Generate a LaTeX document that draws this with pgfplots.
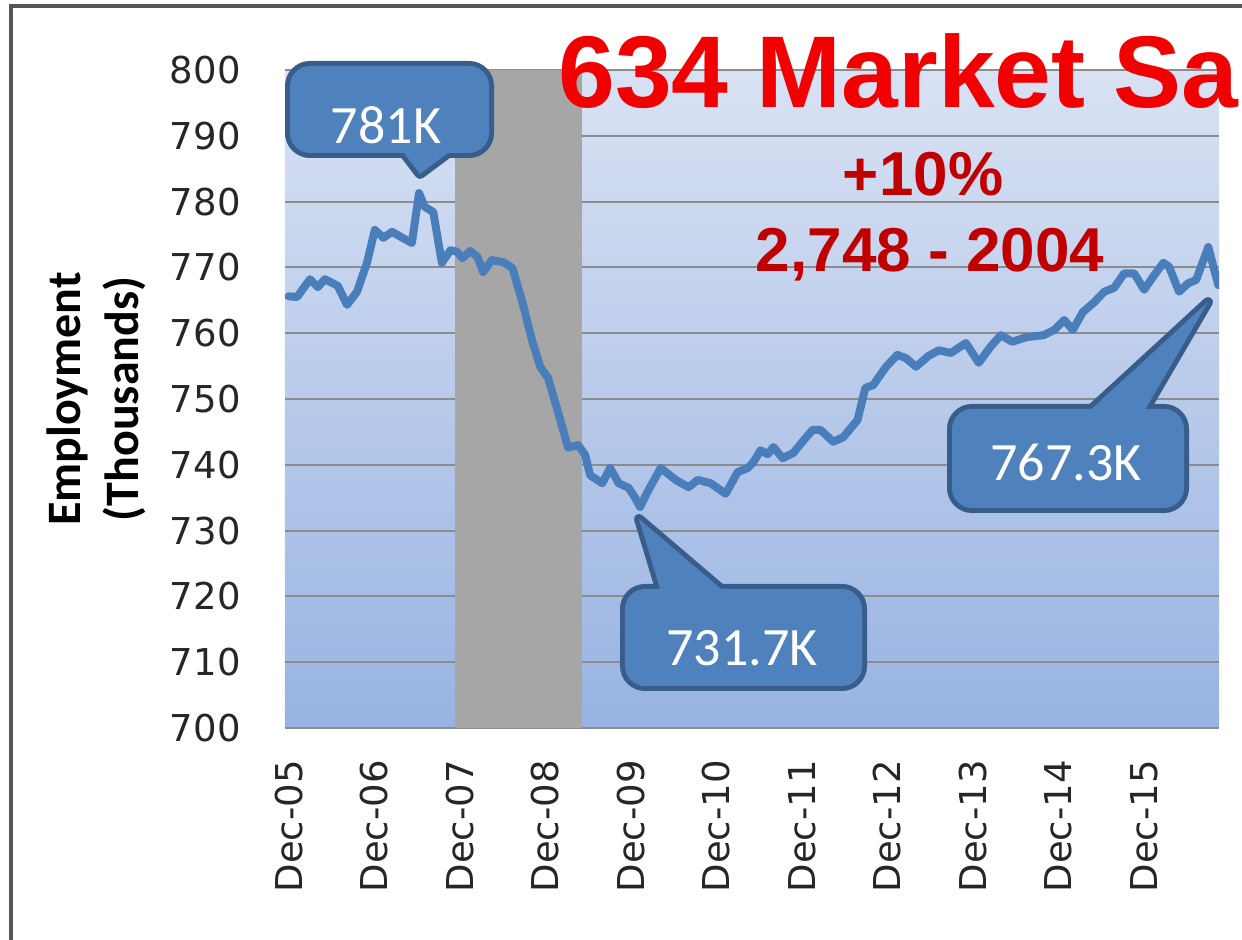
\documentclass[border=0pt]{standalone}
\usepackage{pgfplots}
\pgfplotsset{compat=1.18}
\usepackage{fontspec}
\setmainfont{DejaVu Sans}
\newfontfamily\calib{Carlito}
\newfontfamily\arialf{Liberation Sans}

\definecolor{bgtop}{RGB}{217,226,243}
\definecolor{bgbot}{RGB}{152,179,226}
\definecolor{lineblue}{RGB}{74,126,187}
\definecolor{recgray}{RGB}{166,166,166}
\definecolor{gridgray}{RGB}{140,140,140}
\definecolor{callfill}{RGB}{79,129,189}
\definecolor{callline}{RGB}{56,93,138}
\definecolor{framecol}{RGB}{85,85,95}
\definecolor{titlered}{RGB}{240,0,0}
\definecolor{darkred}{RGB}{192,0,0}

% employment, thousands; x = months after Dec-05
\pgfplotstableread{
m v
0 765.6
1.2 765.5
3.0 768.2
4.1 767.0
5.1 768.2
6.9 767.2
8.2 764.3
9.6 766.3
11.0 770.7
12.1 775.7
13.3 774.5
14.5 775.4
17.3 773.7
18.3 781.3
19.1 779.2
20.3 778.4
21.5 770.7
22.7 772.6
23.6 772.4
24.4 771.4
25.5 772.5
26.5 771.6
27.3 769.3
28.5 771.1
30.1 770.8
31.4 769.9
32.8 764.7
34.2 758.7
35.3 754.9
36.4 753.2
37.8 748.0
39.2 742.6
40.6 743.0
41.6 741.5
42.3 738.4
44.0 737.2
45.1 739.5
46.3 737.2
47.7 736.5
48.6 735.0
49.3 733.6
50.5 736.2
52.2 739.5
54.3 737.7
56.1 736.6
57.4 737.7
59.2 737.2
61.3 735.6
63.0 738.9
64.4 739.5
65.2 740.4
66.2 742.2
67.2 741.6
68.0 742.7
69.3 741.0
70.8 741.8
72.3 743.8
73.5 745.3
74.6 745.3
76.4 743.5
77.8 744.2
79.8 746.8
80.9 751.7
82.0 752.1
83.8 754.9
85.4 756.7
86.6 756.2
88.0 754.9
89.7 756.5
91.2 757.4
92.9 757.0
95.0 758.5
96.8 755.5
98.5 758.0
99.9 759.7
101.5 758.7
103.5 759.4
105.9 759.7
107.4 760.5
108.8 762.0
110.0 760.5
111.4 763.2
113.0 764.7
114.4 766.3
115.8 766.9
117.2 769.1
118.6 769.1
120.0 766.6
121.4 768.8
122.7 770.7
123.5 770.1
124.9 766.3
126.2 767.6
127.3 768.1
129.0 773.1
130.4 767.3
}\emp

\begin{document}
\begin{tikzpicture}
% page = 1242 x 940 px at 0.5pt per px, plot box lower-left at px (285,728)
\path[use as bounding box] (-142.5pt,-106pt) rectangle (478.5pt,364pt);
\begin{axis}[
    at={(0,0)}, anchor=south west,
    scale only axis, width=467pt, height=329pt,
    xmin=-0.5, xmax=130.5, ymin=700, ymax=800,
    ytick={700,710,...,800},
    xtick={0,12,...,120},
    xticklabels={Dec-05,Dec-06,Dec-07,Dec-08,Dec-09,Dec-10,Dec-11,Dec-12,Dec-13,Dec-14,Dec-15},
    ymajorgrids, grid style={gridgray, line width=1pt},
    axis x line*=bottom, axis y line*=left,
    x axis line style={gridgray, line width=1pt, -},
    y axis line style={draw=none},
    major tick length=0pt,
    axis background/.style={top color=bgtop, bottom color=bgbot},
    /pgf/number format/assume math mode=true,
    tick label style={font=\fontsize{18.5}{20}\selectfont, text=black!85},
    yticklabel style={anchor=east, inner xsep=22pt},
    xticklabel style={rotate=90, anchor=east, inner xsep=16pt},
    ylabel={Employment\\(Thousands)},
    every axis y label/.style={at={(axis description cs:-0.202,0.5)}, anchor=center,
        rotate=90, align=center, font=\calib\bfseries\fontsize{24}{29}\selectfont},
]
\addplot[fill=recgray, draw=none] coordinates {(23.4,700) (23.4,800) (41.2,800) (41.2,700)} -- cycle;
\addplot[lineblue, line width=4pt, line join=round, line cap=round] table[x=m, y=v] {\emp};
\end{axis}

\begin{scope}[shift={(-142.5pt,364pt)}, x=0.5pt, y=-0.5pt]
\draw[framecol, line width=2pt] (11,945) -- (11,6) -- (1250,6);

% callouts
\draw[callline, line width=5pt, rounded corners=10pt] (290,66) rectangle (489,153);
\draw[callline, line width=5pt, line join=round] (400,148) -- (420,174) -- (455,148) -- cycle;
\draw[callline, line width=5pt, rounded corners=10pt] (625,589) rectangle (862,686);
\draw[callline, line width=5pt, line join=round] (662,595) -- (639,519) -- (728,595) -- cycle;
\draw[callline, line width=5pt, rounded corners=10pt] (952,409) rectangle (1184,508);
\draw[callline, line width=5pt, line join=round] (1085,415) -- (1208,302) -- (1142,415) -- cycle;
\fill[callfill, rounded corners=10pt] (290,66) rectangle (489,153);
\fill[callfill] (400,148) -- (420,174) -- (455,148) -- cycle;
\fill[callfill, rounded corners=10pt] (625,589) rectangle (862,686);
\fill[callfill] (662,595) -- (639,519) -- (728,595) -- cycle;
\fill[callfill, rounded corners=10pt] (952,409) rectangle (1184,508);
\fill[callfill] (1085,415) -- (1208,302) -- (1142,415) -- cycle;
\node[text=white, font=\calib\fontsize{27}{27}\selectfont] at (386,125) {781K};
\node[text=white, font=\calib\fontsize{27}{27}\selectfont] at (742,648) {731.7K};
\node[text=white, font=\calib\fontsize{27}{27}\selectfont] at (1066,462) {767.3K};

% red headline texts
\node[anchor=base west, inner sep=0, text=titlered, font=\arialf\bfseries\fontsize{51}{51}\selectfont] at (558,108) {634 Market Sa};
\node[anchor=base, inner sep=0, text=darkred, font=\arialf\bfseries\fontsize{31}{31}\selectfont] at (923,196) {+10\%};
\node[anchor=base, inner sep=0, text=darkred, font=\arialf\bfseries\fontsize{31}{31}\selectfont] at (930,272) {2,748 - 2004};
\end{scope}
\end{tikzpicture}
\end{document}
